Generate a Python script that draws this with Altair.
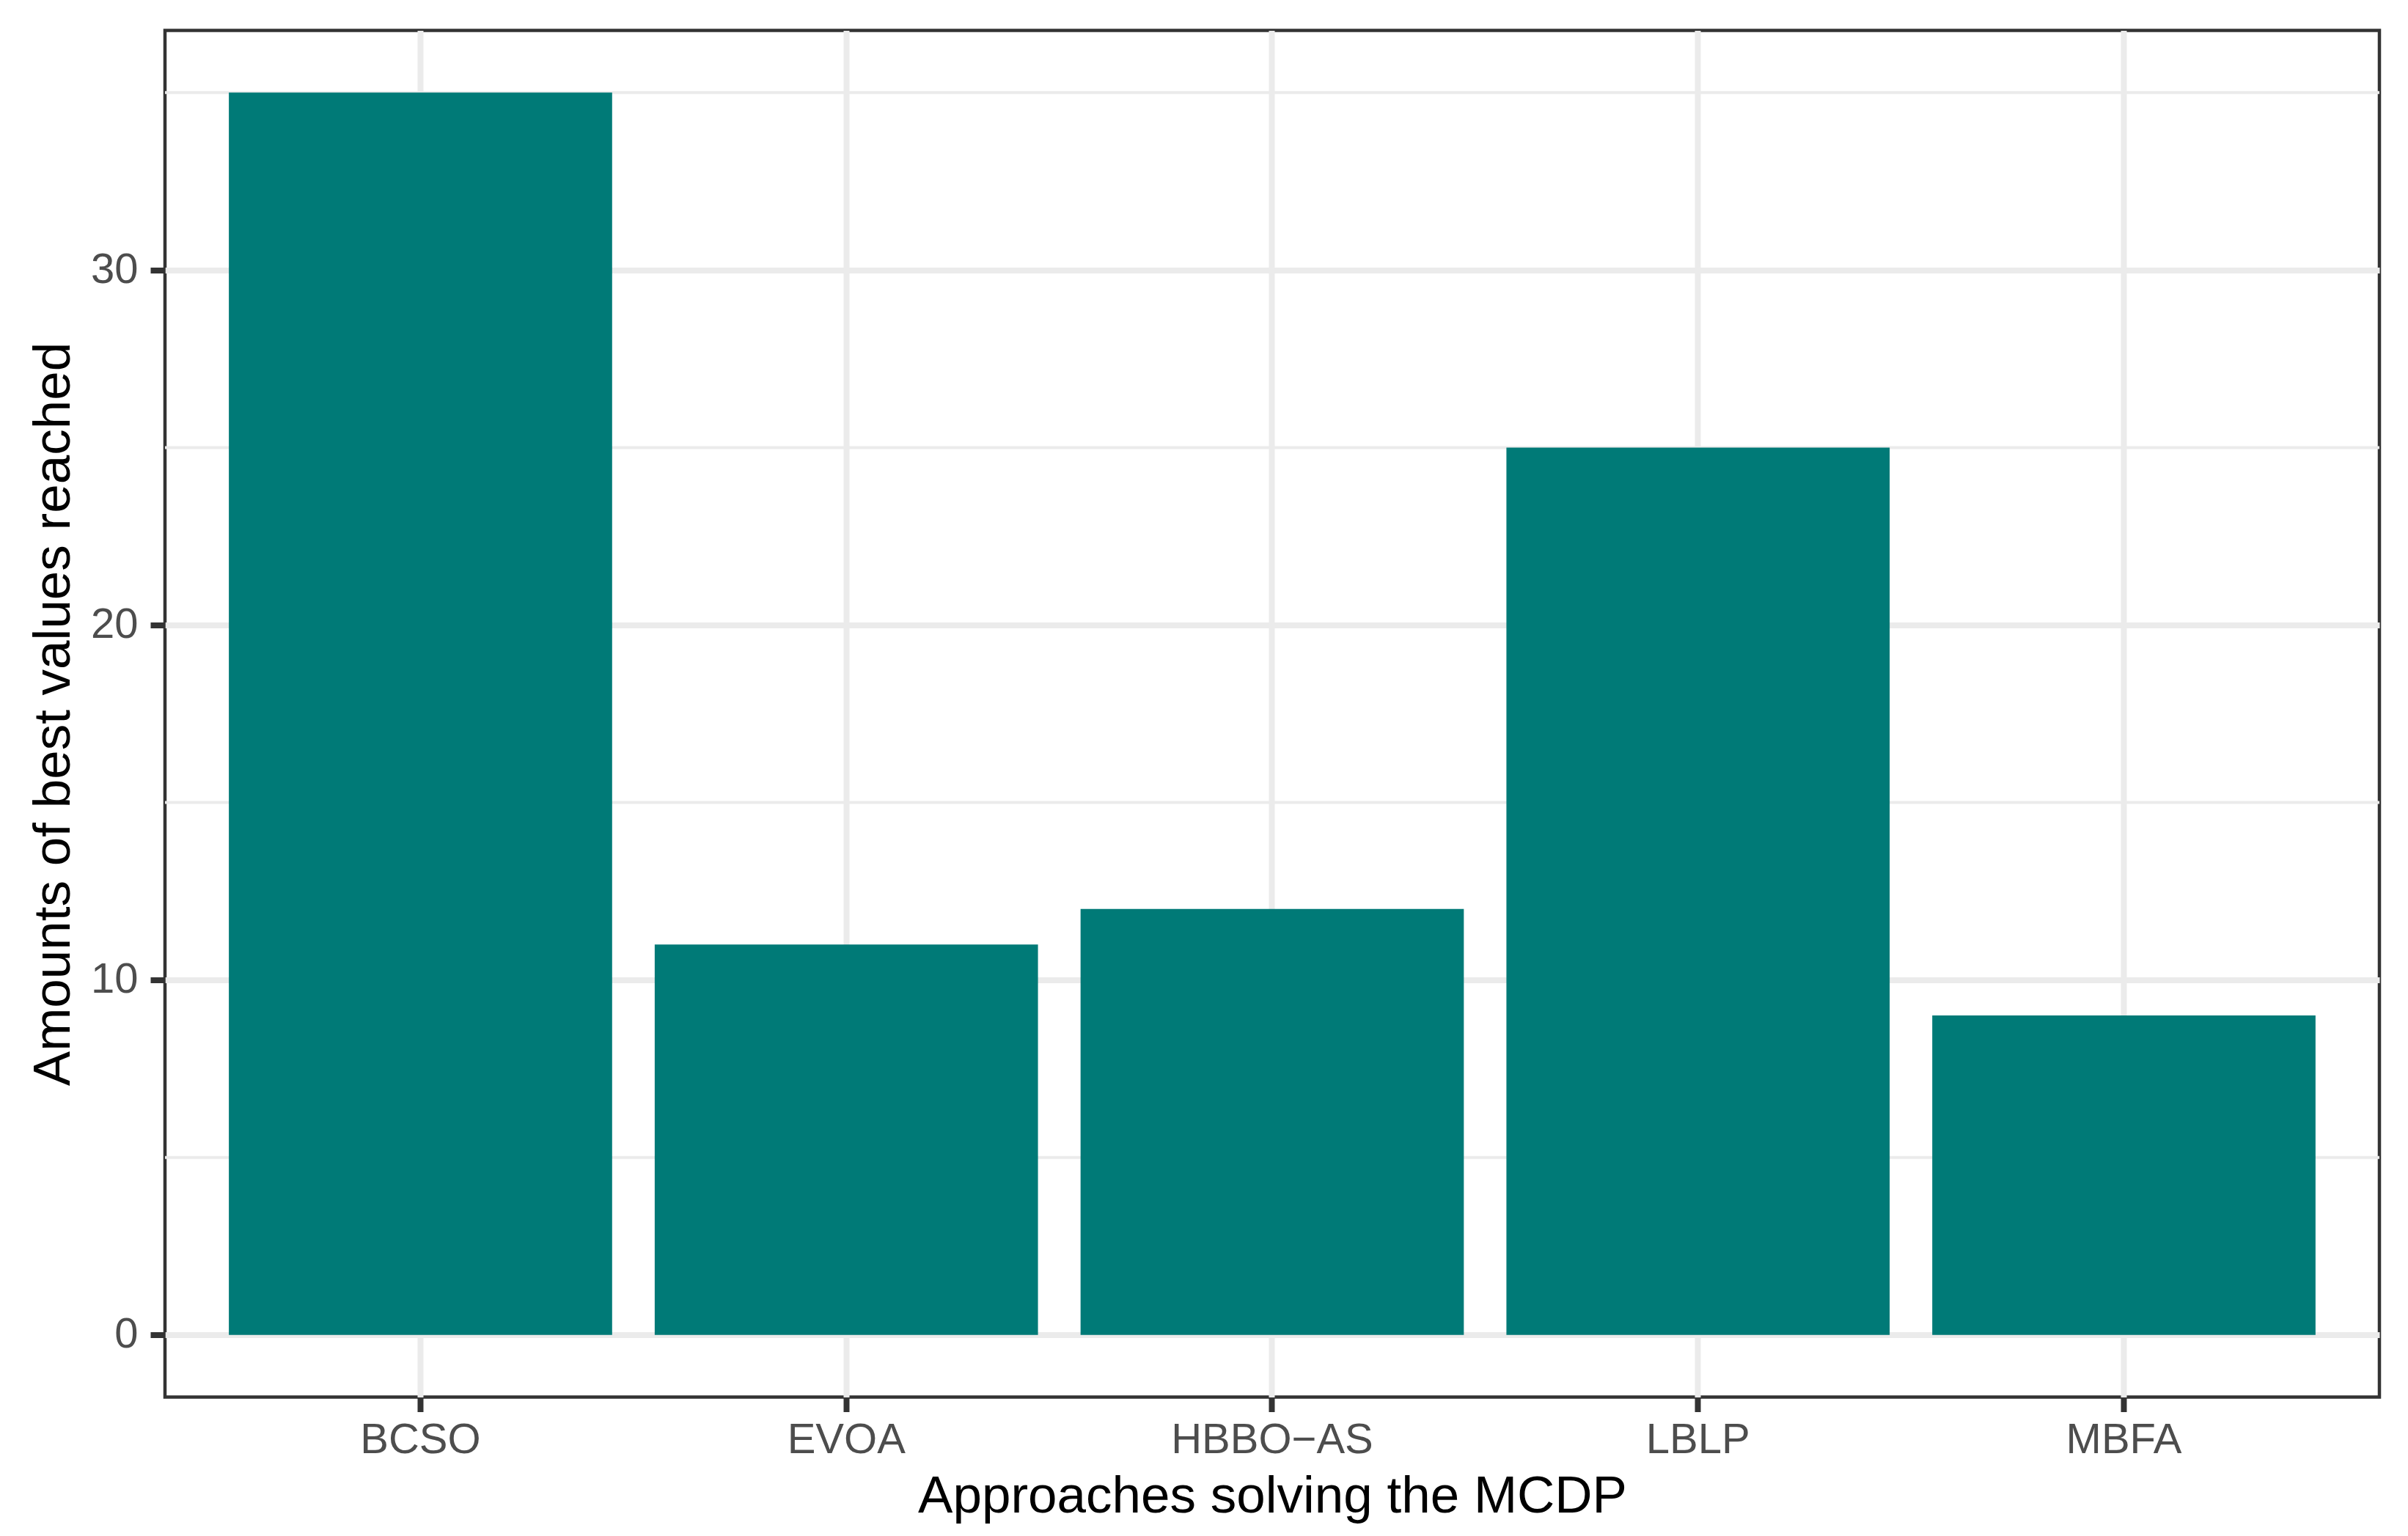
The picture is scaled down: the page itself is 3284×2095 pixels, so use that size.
import altair as alt
import pandas as pd

approaches = ["BCSO", "EVOA", "HBBO\u2212AS", "LBLP", "MBFA"]
best_counts = [35, 11, 12, 25, 9]
y_major_ticks = [0, 10, 20, 30]
y_minor_breaks = [5, 15, 25, 35]

df = pd.DataFrame({"approach": approaches, "count": best_counts})
minor_df = pd.DataFrame({"count": y_minor_breaks})

FONT = "Liberation Sans"

yscale = alt.Scale(domain=[-1.75, 36.75], nice=False, zero=False)

y_axis = alt.Axis(
    title="Amounts of best values reached",
    values=y_major_ticks,
    labelFontSize=58,
    labelColor="#4D4D4D",
    labelFont=FONT,
    labelPadding=17,
    tickSize=20,
    tickWidth=8,
    tickColor="#333333",
    grid=True,
    gridColor="#EBEBEB",
    gridWidth=8,
    titleFont=FONT,
    titleFontSize=71,
    titleFontWeight="normal",
    titleColor="#000000",
    titleBaseline="alphabetic",
    titleX=-131,
    titleY=932,
    domain=False,
)

minor = alt.Chart(minor_df).mark_rule(color="#EBEBEB", strokeWidth=4).encode(
    y=alt.Y("count:Q", scale=yscale, axis=y_axis)
)

bars = alt.Chart(df).mark_bar(color="#007A77").encode(
    x=alt.X(
        "approach:N",
        sort=approaches,
        scale=alt.Scale(paddingInner=0.1, paddingOuter=0.15),
        axis=alt.Axis(
            title="Approaches solving the MCDP",
            labelAngle=0,
            labelFontSize=58,
            labelColor="#4D4D4D",
            labelFont=FONT,
            labelPadding=10,
            labelLimit=0,
            tickSize=20,
            tickWidth=8,
            tickColor="#333333",
            grid=True,
            gridColor="#EBEBEB",
            gridWidth=8,
            titleFont=FONT,
            titleFontSize=71,
            titleFontWeight="normal",
            titleColor="#000000",
            titleBaseline="alphabetic",
            titleY=157,
            domain=False,
        ),
    ),
    y=alt.Y("count:Q", scale=yscale, axis=y_axis),
    y2=alt.datum(0),
)

chart = (
    alt.layer(minor, bars)
    .properties(
        width=3020,
        height=1864,
        autosize=alt.AutoSizeParams(type="none"),
        padding={"left": 217, "top": 33.5, "right": 20, "bottom": 185},
        background="white",
    )
    .configure_view(stroke="#333333", strokeWidth=4.5)
)

chart.save("out.html", embed_options={"renderer": "svg", "actions": False})
